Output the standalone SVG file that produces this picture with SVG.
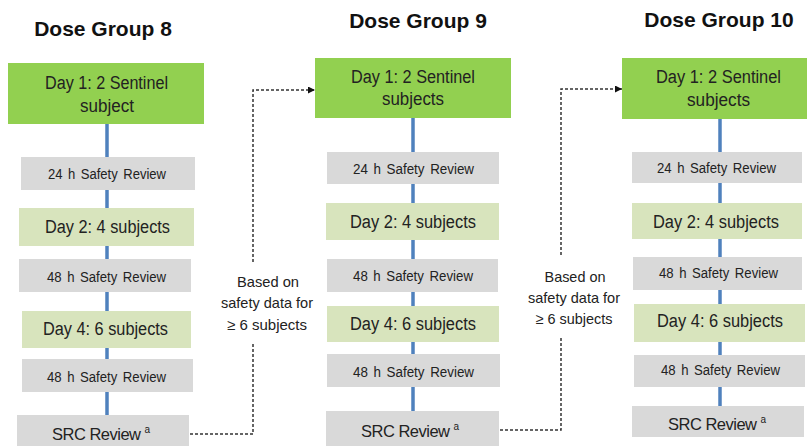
<svg xmlns="http://www.w3.org/2000/svg" width="807" height="446" viewBox="0 0 807 446">
<style>
.title{font-family:"Liberation Sans",Arial,sans-serif;font-weight:bold;font-size:21px;fill:#111;text-anchor:middle}
.big{font-family:"Liberation Sans",Arial,sans-serif;font-size:18px;fill:#222}
.src{font-family:"Liberation Sans",Arial,sans-serif;font-size:16.5px;letter-spacing:-0.5px;fill:#222}
.small{font-family:"Liberation Sans",Arial,sans-serif;font-size:14px;fill:#222;word-spacing:2px}
.note{font-family:"Liberation Sans",Arial,sans-serif;font-size:15px;fill:#222;text-anchor:middle}
.sup{font-size:10px;letter-spacing:0}
.g1{fill:#92d050}
.g2{fill:#d8e4bd}
.gr{fill:#d9d9d9}
.spine{stroke:#4f81bd;stroke-width:3.5;fill:none}
.dash{stroke:#333;stroke-width:1.5;fill:none;stroke-dasharray:3 2}
</style>
<defs>
<marker id="arr" viewBox="0 0 10 10" refX="10" refY="5" markerWidth="7" markerHeight="7" markerUnits="userSpaceOnUse" orient="auto">
<path d="M0,0 L10,5 L0,10 z" fill="#111"/>
</marker>
</defs>
<rect width="807" height="446" fill="#fff"/>
<g id="connectors">
<line class="spine" x1="107" y1="124" x2="107" y2="415"/>
<line class="spine" x1="413" y1="118" x2="413" y2="411"/>
<line class="spine" x1="720" y1="119" x2="720" y2="406"/>
<path class="dash" d="M190,434 H253 V342"/>
<path class="dash" d="M253,262 V90 H315" marker-end="url(#arr)"/>
<path class="dash" d="M500,430 H561 V337"/>
<path class="dash" d="M561,255 V89 H622" marker-end="url(#arr)"/>
<text class="note" x="268" y="287" textLength="62" lengthAdjust="spacingAndGlyphs">Based on</text>
<text class="note" x="267" y="308" textLength="92" lengthAdjust="spacingAndGlyphs">safety data for</text>
<text class="note" x="267" y="330" textLength="80" lengthAdjust="spacingAndGlyphs">≥ 6 subjects</text>
<text class="note" x="575" y="282" textLength="61" lengthAdjust="spacingAndGlyphs">Based on</text>
<text class="note" x="574" y="303" textLength="92" lengthAdjust="spacingAndGlyphs">safety data for</text>
<text class="note" x="574" y="324" textLength="77" lengthAdjust="spacingAndGlyphs">≥ 6 subjects</text>
</g>
<g id="group8">
<text class="title" x="103" y="36">Dose Group 8</text>
<g id="g8-day1"><rect class="g1" x="8" y="63" width="196" height="61"/><text class="big" x="45" y="89" textLength="123" lengthAdjust="spacingAndGlyphs">Day 1: 2 Sentinel</text><text class="big" x="80" y="112" textLength="54" lengthAdjust="spacingAndGlyphs">subject</text></g>
<g id="g8-24h"><rect class="gr" x="21" y="157" width="174" height="33"/><text class="small" x="48" y="179" textLength="118" lengthAdjust="spacingAndGlyphs">24 h Safety Review</text></g>
<g id="g8-day2"><rect class="g2" x="19" y="208" width="175" height="38"/><text class="big" x="45" y="233" textLength="125" lengthAdjust="spacingAndGlyphs">Day 2: 4 subjects</text></g>
<g id="g8-48h-a"><rect class="gr" x="19" y="259" width="172" height="33"/><text class="small" x="47" y="282" textLength="119" lengthAdjust="spacingAndGlyphs">48 h Safety Review</text></g>
<g id="g8-day4"><rect class="g2" x="22" y="311" width="169" height="37"/><text class="big" x="43" y="335" textLength="125" lengthAdjust="spacingAndGlyphs">Day 4: 6 subjects</text></g>
<g id="g8-48h-b"><rect class="gr" x="22" y="359" width="171" height="33"/><text class="small" x="47" y="382" textLength="119" lengthAdjust="spacingAndGlyphs">48 h Safety Review</text></g>
<g id="g8-src"><rect class="gr" x="17" y="415" width="172" height="35"/><text class="src" x="52" y="440">SRC Review<tspan class="sup" dx="4" dy="-7">a</tspan></text></g>
</g>
<g id="group9">
<text class="title" x="418" y="28">Dose Group 9</text>
<g id="g9-day1"><rect class="g1" x="315" y="58" width="196" height="60"/><text class="big" x="351" y="83" textLength="124" lengthAdjust="spacingAndGlyphs">Day 1: 2 Sentinel</text><text class="big" x="382" y="105" textLength="62" lengthAdjust="spacingAndGlyphs">subjects</text></g>
<g id="g9-24h"><rect class="gr" x="327" y="152" width="172" height="32"/><text class="small" x="353" y="174" textLength="121" lengthAdjust="spacingAndGlyphs">24 h Safety Review</text></g>
<g id="g9-day2"><rect class="g2" x="326" y="203" width="173" height="37"/><text class="big" x="350" y="228" textLength="126" lengthAdjust="spacingAndGlyphs">Day 2: 4 subjects</text></g>
<g id="g9-48h-a"><rect class="gr" x="327" y="259" width="171" height="33"/><text class="small" x="353" y="281" textLength="120" lengthAdjust="spacingAndGlyphs">48 h Safety Review</text></g>
<g id="g9-day4"><rect class="g2" x="327" y="306" width="172" height="36"/><text class="big" x="350" y="330" textLength="126" lengthAdjust="spacingAndGlyphs">Day 4: 6 subjects</text></g>
<g id="g9-48h-b"><rect class="gr" x="327" y="354" width="173" height="33"/><text class="small" x="353" y="377" textLength="121" lengthAdjust="spacingAndGlyphs">48 h Safety Review</text></g>
<g id="g9-src"><rect class="gr" x="326" y="411" width="173" height="35"/><text class="src" x="361" y="437">SRC Review<tspan class="sup" dx="4" dy="-7">a</tspan></text></g>
</g>
<g id="group10">
<text class="title" x="719" y="27">Dose Group 10</text>
<g id="g10-day1"><rect class="g1" x="622" y="58" width="185" height="61"/><text class="big" x="656" y="83" textLength="125" lengthAdjust="spacingAndGlyphs">Day 1: 2 Sentinel</text><text class="big" x="687" y="106" textLength="63" lengthAdjust="spacingAndGlyphs">subjects</text></g>
<g id="g10-24h"><rect class="gr" x="632" y="152" width="170" height="31"/><text class="small" x="657" y="173" textLength="119" lengthAdjust="spacingAndGlyphs">24 h Safety Review</text></g>
<g id="g10-day2"><rect class="g2" x="632" y="203" width="170" height="36"/><text class="big" x="653" y="228" textLength="126" lengthAdjust="spacingAndGlyphs">Day 2: 4 subjects</text></g>
<g id="g10-48h-a"><rect class="gr" x="633" y="257" width="169" height="33"/><text class="small" x="659" y="278" textLength="119" lengthAdjust="spacingAndGlyphs">48 h Safety Review</text></g>
<g id="g10-day4"><rect class="g2" x="634" y="304" width="171" height="38"/><text class="big" x="657" y="327" textLength="126" lengthAdjust="spacingAndGlyphs">Day 4: 6 subjects</text></g>
<g id="g10-48h-b"><rect class="gr" x="634" y="355" width="171" height="32"/><text class="small" x="661" y="375" textLength="119" lengthAdjust="spacingAndGlyphs">48 h Safety Review</text></g>
<g id="g10-src"><rect class="gr" x="632" y="406" width="172" height="31"/><text class="src" x="668" y="430">SRC Review<tspan class="sup" dx="4" dy="-7">a</tspan></text></g>
</g>
</svg>
